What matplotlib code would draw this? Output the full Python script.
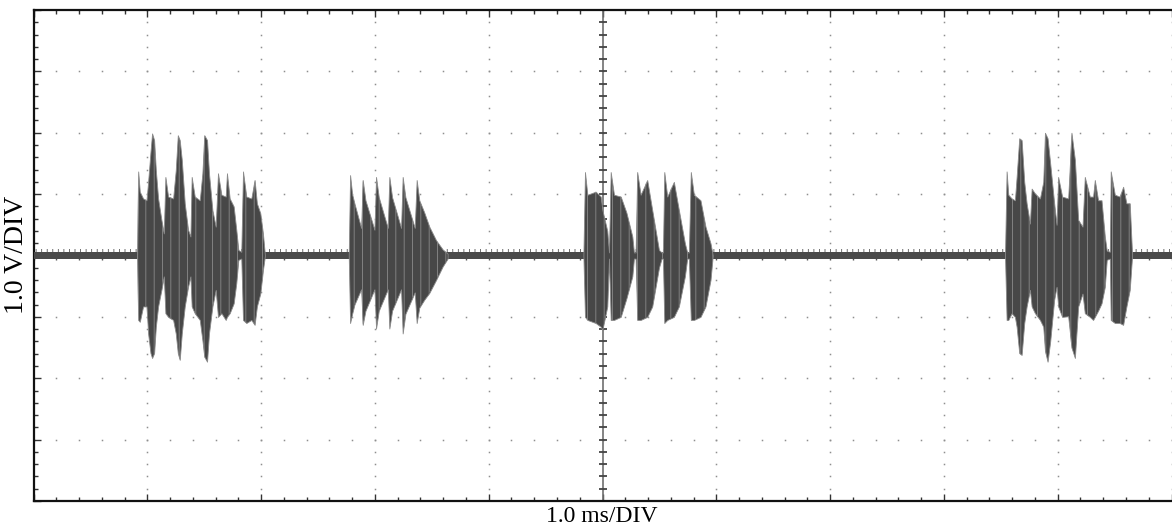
import numpy as np
import matplotlib
matplotlib.use('agg')
import matplotlib.pyplot as plt

plt.rcParams['font.family'] = ['Liberation Serif', 'DejaVu Serif']
plt.rcParams['hatch.linewidth'] = 0.6

# screen: 10 div x 1.0 ms, 8 div x 1.0 V
x_divs = 10
y_divs = 8

# bursts: time (ms), upper peak (V), lower peak (V)
b1_t = [0.911, 0.920, 0.934, 0.963, 0.993, 1.007, 1.028, 1.042, 1.060, 1.075,
        1.095, 1.124, 1.145, 1.159, 1.183, 1.227, 1.250, 1.268, 1.285, 1.303,
        1.329, 1.358, 1.379, 1.390, 1.417, 1.461, 1.484, 1.501, 1.525, 1.542,
        1.572, 1.601, 1.621, 1.651, 1.689, 1.700, 1.724, 1.759, 1.782, 1.800,
        1.826, 1.841, 1.870, 1.914, 1.943, 1.963, 1.993, 2.016, 2.034]
b1_hi = [0.0, 1.37, 1.04, 0.93, 0.90, 1.20, 1.69, 1.99, 1.88, 1.39,
         0.93, 0.58, 0.36, 1.28, 0.96, 0.93, 1.39, 1.96, 1.88, 1.56,
         0.85, 0.42, 0.31, 1.28, 0.96, 0.90, 1.34, 1.96, 1.88, 1.34,
         0.74, 0.47, 1.34, 0.99, 0.96, 1.34, 0.93, 0.80, 0.42, 0.09,
         0.06, 1.37, 0.96, 0.93, 1.23, 0.85, 0.69, 0.36, 0.0]
b1_lo = [0.0, -1.05, -1.08, -0.83, -0.83, -1.27, -1.59, -1.67, -1.59, -1.16,
         -0.83, -0.56, -0.34, -0.94, -1.00, -1.05, -1.27, -1.59, -1.70, -1.27,
         -0.83, -0.51, -0.34, -0.83, -0.94, -1.05, -1.38, -1.65, -1.73, -1.27,
         -0.83, -0.56, -1.00, -0.94, -1.05, -1.00, -0.94, -0.78, -0.45, -0.07,
         -0.05, -1.05, -1.10, -1.05, -1.13, -0.83, -0.62, -0.24, 0.0]

b2_t = [2.770, 2.782, 2.800, 2.820, 2.879, 2.893, 2.917, 2.996, 3.010, 3.034,
        3.113, 3.127, 3.151, 3.230, 3.244, 3.268, 3.350, 3.367, 3.390, 3.434,
        3.478, 3.537, 3.595, 3.639]
b2_hi = [0.0, 1.31, 1.00, 0.85, 0.45, 1.23, 0.90, 0.42, 1.28, 0.95,
         0.45, 1.28, 0.95, 0.45, 1.28, 0.95, 0.45, 1.23, 0.90, 0.70,
         0.47, 0.25, 0.10, 0.03]
b2_lo = [0.0, -1.10, -0.95, -0.80, -0.55, -1.13, -0.90, -0.55, -1.19, -0.90,
         -0.55, -1.19, -0.90, -0.55, -1.27, -0.95, -0.60, -1.10, -0.85, -0.72,
         -0.61, -0.40, -0.18, -0.05]

b3_t = [4.832, 4.846, 4.867, 4.940, 4.984, 4.999, 5.042, 5.057, 5.072, 5.101,
        5.160, 5.210, 5.262, 5.276, 5.291, 5.305, 5.335, 5.393, 5.437, 5.496,
        5.519, 5.531, 5.543, 5.569, 5.627, 5.671, 5.724, 5.744, 5.759, 5.776,
        5.803, 5.861, 5.905, 5.949, 5.969]
b3_hi = [0.0, 1.36, 0.99, 1.04, 0.96, 0.74, 0.40, 0.05, 1.36, 0.99,
         0.96, 0.70, 0.31, 0.05, 0.05, 1.36, 0.99, 1.23, 0.74, 0.09,
         0.05, 0.05, 1.36, 0.96, 1.20, 0.74, 0.20, 0.05, 0.05, 1.36,
         0.99, 0.90, 0.47, 0.20, 0.0]
b3_lo = [0.0, -1.00, -1.05, -1.10, -1.16, -1.21, -0.83, -0.05, -1.05, -1.05,
         -1.00, -0.70, -0.34, -0.05, -0.05, -1.05, -1.05, -1.00, -0.83, -0.20,
         -0.05, -0.05, -1.10, -1.05, -1.00, -0.83, -0.34, -0.05, -0.05, -1.05,
         -1.05, -1.00, -0.83, -0.40, 0.0]

b4_t = [8.537, 8.551, 8.566, 8.595, 8.624, 8.639, 8.662, 8.683, 8.706, 8.727,
        8.756, 8.771, 8.800, 8.844, 8.873, 8.888, 8.911, 8.934, 8.969, 8.990,
        9.004, 9.039, 9.092, 9.121, 9.151, 9.180, 9.218, 9.238, 9.282, 9.311,
        9.326, 9.355, 9.385, 9.414, 9.431, 9.458, 9.466, 9.502, 9.545, 9.575,
        9.604, 9.633, 9.654]
b4_hi = [0.0, 1.37, 0.99, 0.93, 0.90, 1.28, 1.91, 1.88, 1.20, 0.85,
         0.52, 1.09, 1.01, 0.93, 1.20, 2.00, 1.91, 1.50, 0.85, 0.50,
         1.28, 0.96, 0.93, 2.00, 1.56, 0.58, 0.47, 1.28, 0.96, 0.96,
         1.23, 0.90, 0.90, 0.31, 0.08, 0.06, 1.37, 0.99, 0.96, 1.12,
         0.85, 0.85, 0.0]
b4_lo = [0.0, -1.05, -1.05, -0.94, -1.00, -1.16, -1.59, -1.62, -1.10, -0.83,
         -0.56, -0.83, -0.94, -1.05, -1.16, -1.55, -1.73, -1.40, -0.72, -0.51,
         -0.83, -1.00, -0.99, -1.50, -1.67, -0.83, -0.62, -0.94, -1.00, -1.05,
         -1.00, -0.90, -0.78, -0.51, -0.07, -0.05, -1.05, -1.10, -1.10, -1.13,
         -0.83, -0.56, 0.0]

bursts = [(b1_t, b1_hi, b1_lo), (b2_t, b2_hi, b2_lo),
          (b3_t, b3_hi, b3_lo), (b4_t, b4_hi, b4_lo)]

# idle trace between bursts (V)
base_lo = -0.05
base_hi = 0.05
base_hair = 0.10

fig = plt.figure(figsize=(11.72, 5.26), dpi=100)
ax = fig.add_axes([33.5/1172, 25/526, 1138/1172, 491/526])
ax.set_xlim(0, x_divs)
ax.set_ylim(-y_divs/2, y_divs/2)

# dotted graticule: dots at every minor step along the major lines
xmaj = np.arange(0, x_divs + 1)
ymaj = np.arange(-y_divs/2, y_divs/2 + 1)
xmin_ = np.arange(0, x_divs + 0.01, 0.2)
ymin_ = np.arange(-y_divs/2, y_divs/2 + 0.01, 0.2)
for xv in xmaj:
    ax.plot([xv]*len(ymin_), ymin_, ls='none', marker='s', ms=1.1, mew=0,
            color='#8f8f8f', zorder=1)
for yv in ymaj:
    ax.plot(xmin_, [yv]*len(xmin_), ls='none', marker='s', ms=1.1, mew=0,
            color='#8f8f8f', zorder=1)

# centre cross with its own ticks
ax.axvline(x_divs/2, color='#707070', lw=1.2, zorder=2)
ax.axhline(0, color='#707070', lw=1.2, zorder=2)
ax.plot([x_divs/2]*len(ymin_), ymin_, ls='none', marker='_', ms=6, mew=1.3,
        color='#444444', zorder=2)
ax.plot(xmin_, [0]*len(xmin_), ls='none', marker='|', ms=6, mew=1.0,
        color='#555555', zorder=2)

# idle trace
ax.fill_between([0, x_divs], base_lo, base_hi, color='#4a4a4a', lw=0, zorder=3)
ax.fill_between([0, x_divs], base_hi, base_hair, facecolor='none',
                edgecolor='#555555', hatch='|||', lw=0, zorder=3)

# bursts
for t, hi, lo in bursts:
    ax.fill_between(t, lo, hi, color='#474747', lw=0.6, edgecolor='#8a8a8a',
                    zorder=4)
    ax.fill_between(t, lo, hi, facecolor='none', edgecolor='#8a8a8a',
                    hatch='||', lw=0, zorder=5)

ax.set_xticks(xmaj)
ax.set_yticks(ymaj)
ax.set_xticks(xmin_, minor=True)
ax.set_yticks(ymin_, minor=True)
ax.tick_params(which='both', direction='in', top=True, bottom=True,
               left=True, right=False, labelbottom=False, labelleft=False,
               color='#333333', width=1)
ax.tick_params(which='major', length=5)
ax.tick_params(which='minor', length=3)
for side in ['left', 'top', 'bottom']:
    ax.spines[side].set_linewidth(1.6)
    ax.spines[side].set_color('#111111')
ax.spines['right'].set_visible(False)

fig.text(602/1172, 4.5/526, '1.0 ms/DIV', ha='center', va='baseline',
         fontsize=17)
fig.text(17/1172, 1 - 255/526, '1.0 V/DIV', rotation=90, ha='center',
         va='center', fontsize=20)

fig.savefig('out.png', dpi=100)
